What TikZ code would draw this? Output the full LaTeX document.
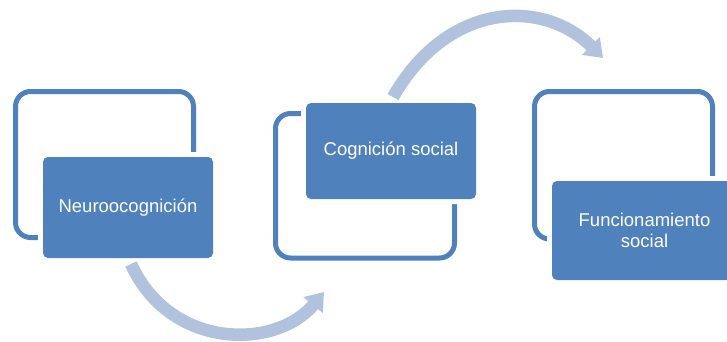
\documentclass[tikz,border=0pt]{standalone}
\usepackage{fontspec}
\setmainfont{Liberation Sans}
\usetikzlibrary{arrows.meta}
\definecolor{boxblue}{HTML}{4F81BD}
\definecolor{arrowblue}{RGB}{176,194,222}
\begin{document}
\begin{tikzpicture}[x=1pt,y=-1pt,
  outlinebox/.style={draw=boxblue, line width=5pt, rounded corners=15pt, rectangle, inner sep=0pt},
  cardbox/.style={fill=boxblue, rounded corners=5pt, rectangle, inner sep=0pt, text=white,
    font=\fontsize{18.5}{21}\selectfont, align=center, preaction={draw=white, line width=10pt}},
  flowarrow/.style={draw=arrowblue, line width=12.5pt, -{Triangle[length=17pt,width=24pt]}}]
\useasboundingbox (0,0) rectangle (727,341);
% outlines
\node[outlinebox, minimum width=178pt, minimum height=146pt] (o1) at (104.5,164.5) {};
\node[outlinebox, minimum width=179pt, minimum height=144.5pt] (o2) at (365,185.75) {};
\node[outlinebox, minimum width=178pt, minimum height=147.5pt] (o3) at (623.5,165.25) {};
% filled boxes
\node[cardbox, minimum width=170pt, minimum height=101pt] (b1) at (128,207.5) {Neuroocognición};
\node[cardbox, minimum width=170pt, minimum height=96pt] (b2) at (391,151) {Cognición social};
\node[cardbox, minimum width=185pt, minimum height=99pt] (b3) at (644.5,230.5) {Funcionamiento\\social};
% arrows
\coordinate (a1s) at (131,264);
\coordinate (a1e) at (324,292);
\coordinate (a2s) at (393,97);
\coordinate (a2e) at (603,58);
\draw[flowarrow] (a1s) .. controls (170,350) and (276,350) .. (a1e);
\draw[flowarrow] (a2s) .. controls (449,-0.5) and (544.5,-0.5) .. (a2e);
\end{tikzpicture}
\end{document}
